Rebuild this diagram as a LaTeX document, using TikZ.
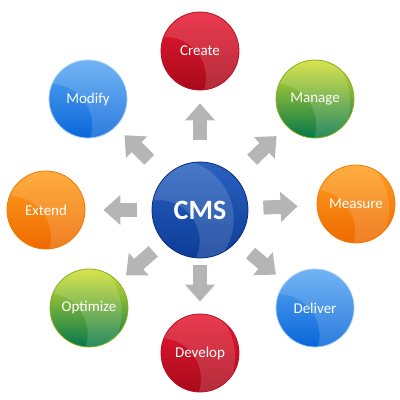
\documentclass[tikz,border=0pt]{standalone}
\usepackage{fontspec}
\setmainfont{Carlito}
\usetikzlibrary{arrows.meta}
\definecolor{arrgray}{HTML}{B5B5B5}
\definecolor{redT}{HTML}{E81A32}\definecolor{redB}{HTML}{A80A1A}\definecolor{redD}{HTML}{B81024}
\definecolor{grnT}{HTML}{D2E030}\definecolor{grnB}{HTML}{05774A}\definecolor{grnD}{HTML}{8AAE1C}
\definecolor{orT}{HTML}{FFA020}\definecolor{orB}{HTML}{EE6A00}\definecolor{orD}{HTML}{F07A08}
\definecolor{lbT}{HTML}{5AA8F2}\definecolor{lbB}{HTML}{0A66DA}\definecolor{lbD}{HTML}{A6CFF6}
\definecolor{cmsT}{HTML}{2A62C0}\definecolor{cmsB}{HTML}{0C3C98}\definecolor{cmsD}{HTML}{0A2C7C}
\tikzset{
  ball/.style={circle, minimum size=78pt, inner sep=0pt, text=white, font=\fontsize{15}{17}\selectfont, line width=0.8pt,
    path picture={\begin{scope}[shift={(path picture bounding box.center)}]
      \fill[white,opacity=0.14,even odd rule] (0,0) circle (60) (-15,22) circle (41);
    \end{scope}}},
  redball/.style={ball, draw=redD, top color=redT, bottom color=redB},
  grnball/.style={ball, draw=grnD, top color=grnT, bottom color=grnB},
  orball/.style={ball, draw=orD, top color=orT, bottom color=orB},
  lbball/.style={ball, draw=lbD, top color=lbT, bottom color=lbB},
  bigarrow/.style={draw=arrgray, line width=14pt, -{Triangle[width=29pt,length=17pt]}, arrgray}
}
\begin{document}
\begin{tikzpicture}[x=1pt,y=-1pt]
\useasboundingbox (0,0) rectangle (400,400);
\node[ball, minimum size=96pt, draw=cmsD, top color=cmsT, bottom color=cmsB,
  font=\fontsize{28}{30}\selectfont\bfseries] (cms) at (200,210) {CMS};
\node[redball] (create) at (200,51) {Create};
\node[grnball] (manage) at (315,99) {Manage};
\node[orball] (measure) at (356,204) {Measure};
\node[lbball] (deliver) at (315,308) {Deliver};
\node[redball] (develop) at (200,353) {Develop};
\node[grnball] (optimize) at (89,308) {Optimize};
\node[orball] (extend) at (46,210) {Extend};
\node[lbball] (modify) at (88,99) {Modify};
\draw[bigarrow, shorten <=22pt, shorten >=13pt] (cms) -- (create);
\draw[bigarrow, shorten <=24pt, shorten >=14pt] (cms) -- (manage);
\draw[bigarrow, shorten <=15pt, shorten >=19pt] (cms) -- (measure);
\draw[bigarrow, shorten <=18pt, shorten >=12pt] (cms) -- (deliver);
\draw[bigarrow, shorten <=7pt, shorten >=12pt] (cms) -- (develop);
\draw[bigarrow, shorten <=14pt, shorten >=10pt] (cms) -- (optimize);
\draw[bigarrow, shorten <=15pt, shorten >=18pt] (cms) -- (extend);
\draw[bigarrow, shorten <=23pt, shorten >=12pt] (cms) -- (modify);
\end{tikzpicture}
\end{document}
